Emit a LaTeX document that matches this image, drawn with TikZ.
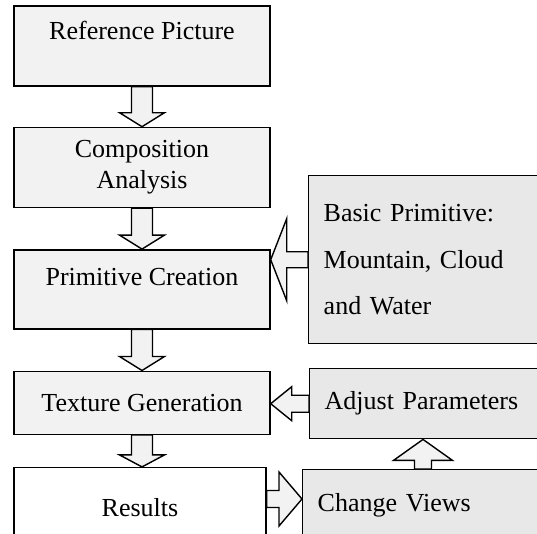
\documentclass[tikz,border=0pt]{standalone}
\usepackage{fontspec}
\setmainfont{Liberation Serif}
\usetikzlibrary{positioning,calc}
\definecolor{boxgray}{HTML}{F2F2F2}
\definecolor{sidegray}{HTML}{E8E8E8}
\tikzset{stage/.style={draw,line width=1.4pt,fill=boxgray,minimum width=256pt,align=center,font=\fontsize{26}{31}\selectfont},
	 side/.style={draw,line width=1.4pt,fill=sidegray,anchor=north west,minimum width=270pt,inner xsep=15pt,text width=240pt,align=left,font=\fontsize{26}{31}\selectfont},
	 barrow/.style n args={3}{draw,line width=1.4pt,fill=boxgray,to path={let \p1=(\tikztostart), \p2=(\tikztotarget), \p3=($(\p2)!#3!(\p1)$) in
	   ($(\p1)!#1!90:(\p2)$) -- ($(\p3)!#1!90:(\p2)$) -- ($(\p3)!#2!90:(\p2)$) -- (\p2) -- ($(\p3)!#2!-90:(\p2)$) -- ($(\p3)!#1!-90:(\p2)$) -- ($(\p1)!#1!-90:(\p2)$) -- cycle}},
	 node distance = 40pt
	 }

\begin{document}
\begin{tikzpicture}[x=1pt,y=1pt] % drawing pipeline
	\useasboundingbox (0,0) rectangle (537,-533);
	\node[stage,minimum height=80pt] (ref) at (142,-46) {Reference Picture\\~};
	\node[stage,minimum height=80pt] (comp) [below=of ref] {Composition\\Analysis};
	\node[stage,minimum height=79pt,text depth=24pt] (prim) [below=41pt of comp] {Primitive Creation};
	\node[stage,minimum height=63pt] (tex) [below=41pt of prim] {Texture Generation};
	\node[stage,fill=white,minimum width=252pt,minimum height=80pt,xshift=-2pt] (res) [below=32pt of tex] {Results};
	\node[side,minimum height=168pt,font=\fontsize{26}{46.5}\selectfont] (basic) at (308,-175) {Basic Primitive:\\Mountain, Cloud\\and Water};
	\node[side,minimum height=70pt] (adj) at (309,-368) {Adjust Parameters};
	\node[side,minimum height=72pt] (views) at (302,-469) {Change Views};
	\coordinate (upx) at (423,0);
	\coordinate (rv) at (0,-499);
	\draw[barrow={10.5pt}{22.5pt}{14pt}] (ref.south) to (comp.north);
	\draw[barrow={10.5pt}{22.5pt}{14pt}] (comp.south) to (prim.north);
	\draw[barrow={10.5pt}{22.5pt}{14pt}] (prim.south) to (tex.north);
	\draw[barrow={10.5pt}{22.5pt}{12pt}] (tex.south) to (res.north -| tex.south);
	\draw[barrow={8pt}{41pt}{16pt}] (basic.west) to (basic.west -| prim.east);
	\draw[barrow={8.5pt}{17pt}{21pt}] (adj.west) to (adj.west -| tex.east);
	\draw[barrow={8.5pt}{29.5pt}{21pt}] (views.north -| upx) to (adj.south -| upx);
	\draw[barrow={8.5pt}{27pt}{23pt}] (res.east |- rv) to (views.west |- rv);
\end{tikzpicture}
\end{document}
